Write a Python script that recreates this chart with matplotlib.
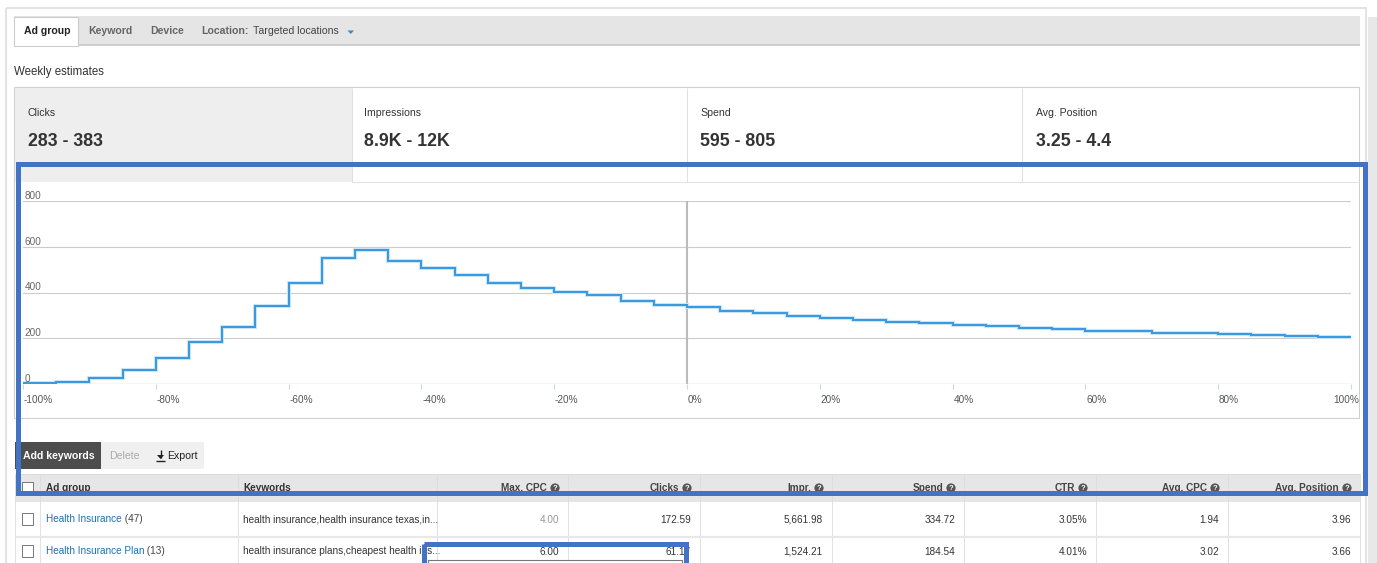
import numpy as np
import matplotlib
matplotlib.use("Agg")
import matplotlib.pyplot as plt
from matplotlib.patches import Rectangle, Circle, Polygon

plt.rcParams['font.family'] = ['Liberation Sans', 'DejaVu Sans']

# ---- data ----
tabs = ['Ad group', 'Keyword', 'Device']
metric_names = ['Clicks', 'Impressions', 'Spend', 'Avg. Position']
metric_ranges = ['283 - 383', '8.9K - 12K', '595 - 805', '3.25 - 4.4']

# bid change (%) step edges and weekly clicks per step
bid_edges = list(range(-100, 101, 5))
clicks = [3, 7, 25, 61, 115, 183, 250, 341, 443, 552,
          587, 539, 506, 475, 442, 418, 402, 388, 363, 347,
          335, 317, 310, 297, 290, 280, 271, 265, 258, 252,
          245, 240, 233, 230, 225, 222, 218, 214, 209, 206]
x_ticks = [-100, -80, -60, -40, -20, 0, 20, 40, 60, 80, 100]
y_ticks = [0, 200, 400, 600, 800]

columns = ['Ad group', 'Keywords', 'Max. CPC', 'Clicks', 'Impr.', 'Spend',
           'CTR', 'Avg. CPC', 'Avg. Position']
ad_groups = ['Health Insurance', 'Health Insurance Plan']
group_counts = [47, 13]
keywords = ['health insurance,health insurance texas,in...',
            'health insurance plans,cheapest health ins...']
max_cpc = ['4.00', '6.00']
clicks_col = ['172.59', '61.17']
impr = ['5,661.98', '1,524.21']
spend = ['334.72', '184.54']
ctr = ['3.05%', '4.01%']
avg_cpc = ['1.94', '3.02']
avg_pos = ['3.96', '3.66']

W, H = 1377, 563
fig = plt.figure(figsize=(W / 100, H / 100), dpi=100)
fig.patch.set_facecolor('white')

# pixel-space canvas for the UI chrome
ui = fig.add_axes([0, 0, 1, 1])
ui.set_xlim(0, W)
ui.set_ylim(H, 0)
ui.axis('off')

def rect(ax, x0, y0, x1, y1, fc='none', ec='none', lw=0.0, z=1):
    ax.add_patch(Rectangle((x0, y0), x1 - x0, y1 - y0, facecolor=fc,
                           edgecolor=ec, linewidth=lw, zorder=z))

def hline(ax, y, x0, x1, c, lw=0.75, z=2):
    ax.plot([x0, x1], [y, y], color=c, lw=lw, zorder=z, solid_capstyle='butt')

def vline(ax, x, y0, y1, c, lw=0.75, z=2):
    ax.plot([x, x], [y0, y1], color=c, lw=lw, zorder=z, solid_capstyle='butt')

# page frame and right scroll strip
rect(ui, 6, 8, 1366, H + 5, ec='#e3e3e3', lw=1.5)
rect(ui, 1368, 17, W, H, fc='#e8e8e8')

# tab bar
rect(ui, 14, 16, 1360, 45, fc='#e5e5e5')
hline(ui, 45, 14, 1360, '#c8c8c8', lw=1.2)
rect(ui, 14, 17, 78, 46, fc='white', ec='#cccccc', lw=0.8, z=3)
tab_x = [24, 88, 150]
for t, x in zip(tabs, tab_x):
    ui.text(x, 31, t, fontsize=7.6, fontweight='bold',
            color='#222222' if t == 'Ad group' else '#666666',
            va='center', ha='left', zorder=4)
ui.text(201, 31, 'Location:', fontsize=7.6, fontweight='bold', color='#666666',
        va='center', ha='left')
ui.text(253, 31.5, 'Targeted locations', fontsize=7.6, color='#444444',
        va='center', ha='left')
ui.add_patch(Polygon([[347.5, 30.5], [354, 30.5], [350.7, 34]], closed=True,
                     facecolor='#3b86c6', edgecolor='none'))

ui.text(14, 72, 'Weekly estimates', fontsize=8.3, color='#333333', va='center')

# summary box + chart frame
rect(ui, 14, 87, 1359, 418, ec='#d0d0d0', lw=0.8)
rect(ui, 15, 88, 352, 182, fc='#eeeeee')
hline(ui, 182, 352, 1359, '#e3e3e3')
for x in [352, 687, 1022]:
    vline(ui, x, 88, 182, '#e0e0e0')
cell_x = [28, 364, 700, 1036]
for name, rng, x in zip(metric_names, metric_ranges, cell_x):
    ui.text(x, 113, name, fontsize=7.6, color='#333333', va='center')
    ui.text(x, 142, rng, fontsize=12.8, fontweight='bold', color='#333333',
            va='center')

# toolbar
rect(ui, 15, 442, 204, 469, fc='#f0f0f0')
rect(ui, 15, 442, 101, 469, fc='#4d4d4d')
ui.text(23, 456, 'Add keywords', fontsize=7.6, fontweight='bold', color='white',
        va='center')
ui.text(109, 456, 'Delete', fontsize=7.6, color='#aaaaaa', va='center')
vline(ui, 160.5, 450, 458, '#222222', lw=1.0)
ui.add_patch(Polygon([[157, 455], [164, 455], [160.5, 459]], closed=True,
                     facecolor='#222222', edgecolor='none'))
hline(ui, 460.5, 156, 165, '#222222', lw=1.0)
ui.text(167, 456, 'Export', fontsize=7.6, color='#222222', va='center')

# table
col_edges = [15, 40, 238, 437, 568, 700, 832, 964, 1096, 1228, 1360]
rect(ui, 15, 474, 1360, 502, fc='#e6e6e6')
hline(ui, 474, 15, 1360, '#dddddd', lw=0.8)
for x in col_edges[1:]:
    vline(ui, x, 474, H, '#dcdcdc', lw=0.6)
vline(ui, 15, 474, H, '#dcdcdc', lw=0.6)
for y in [536, 537]:
    hline(ui, y, 15, 1360, '#e8e8e8', lw=0.8)

def checkbox(y):
    rect(ui, 22, y - 6, 33, y + 6, fc='white', ec='#777777', lw=0.7, z=3)

checkbox(488)
ui.text(46, 488, columns[0], fontsize=7.2, fontweight='bold', color='#333333',
        va='center')
ui.text(243, 488, columns[1], fontsize=7.2, fontweight='bold', color='#333333',
        va='center')
for i, name in enumerate(columns[2:]):
    right = col_edges[i + 4]
    cx = right - 13
    ui.add_patch(Circle((cx, 488), 4.6, facecolor='#555555', edgecolor='none',
                        zorder=3))
    ui.text(cx, 488.5, '?', fontsize=5.5, fontweight='bold', color='white',
            ha='center', va='center', zorder=4)
    ui.text(cx - 8, 488, name, fontsize=7.2, fontweight='bold', color='#444444',
            ha='right', va='center')

row_y = [519, 551]
num_cols = [max_cpc, clicks_col, impr, spend, ctr, avg_cpc, avg_pos]
for r, y in enumerate(row_y):
    checkbox(y)
    t = ui.text(46, y, ad_groups[r], fontsize=7.2, color='#1f6fb5', va='center')
    ui.annotate(f' ({group_counts[r]})', xycoords=t, xy=(1, 0.5), va='center',
                fontsize=7.2, color='#444444')
    ui.text(243, y, keywords[r], fontsize=7.2, color='#333333', va='center')
    for j, col in enumerate(num_cols):
        color = '#999999' if (j == 0 and r == 0) else '#333333'
        ui.text(col_edges[j + 4] - 9, y, col[r], fontsize=7.2, color=color,
                ha='right', va='center_baseline')

# ---- the chart itself ----
x0, x1, yt, yb = 23, 1351, 201, 384
ax = fig.add_axes([x0 / W, 1 - yb / H, (x1 - x0) / W, (yb - yt) / H], zorder=3)
ax.patch.set_alpha(0)
ax.set_xlim(-100, 100)
ax.set_ylim(0, 800)
for s in ax.spines.values():
    s.set_visible(False)
for v in y_ticks[1:]:
    ax.axhline(v, color='#cccccc', lw=0.8, zorder=1)
    ax.text(-99.8, v, str(v), fontsize=7.2, color='#666666', ha='left',
            va='bottom')
ax.text(-99.8, 0, '0', fontsize=7.2, color='#666666', ha='left', va='bottom')
ax.axhline(0, color='#c9d8e8', lw=1.0, zorder=1)
ax.axvline(0, color='#bbbbbb', lw=1.5, zorder=1)
ax.set_yticks([])
ax.set_xticks(x_ticks)
ax.set_xticklabels([])
ax.tick_params(axis='x', direction='out', length=3.8, width=0.8,
               color='#c9d8e8')
for i, v in enumerate(x_ticks):
    last = i == len(x_ticks) - 1
    ax.text(v + (1.2 if last else 0.1), -0.085, f'{v}%', fontsize=7.2,
            color='#555555', ha='right' if last else 'left', va='center',
            transform=ax.get_xaxis_transform())

ax.stairs(clicks, bid_edges, baseline=None, color='#d2e9f8', lw=3.0, zorder=2)
ax.stairs(clicks, bid_edges, baseline=None, color='#3a9ae0', lw=1.5, zorder=3)

# ---- blue highlight boxes on top ----
ov = fig.add_axes([0, 0, 1, 1], zorder=10)
ov.set_xlim(0, W)
ov.set_ylim(H, 0)
ov.axis('off')
ov.patch.set_alpha(0)
rect(ov, 17.5, 163.5, 1364.5, 492.5, ec='#4472c4', lw=3.6, z=5)
rect(ov, 428, 560, 682, H + 10, fc='white', ec='#777777', lw=0.8, z=4)
rect(ov, 424, 544, 686, H + 10, ec='#4472c4', lw=3.6, z=5)

fig.savefig('out.png', dpi=100)
